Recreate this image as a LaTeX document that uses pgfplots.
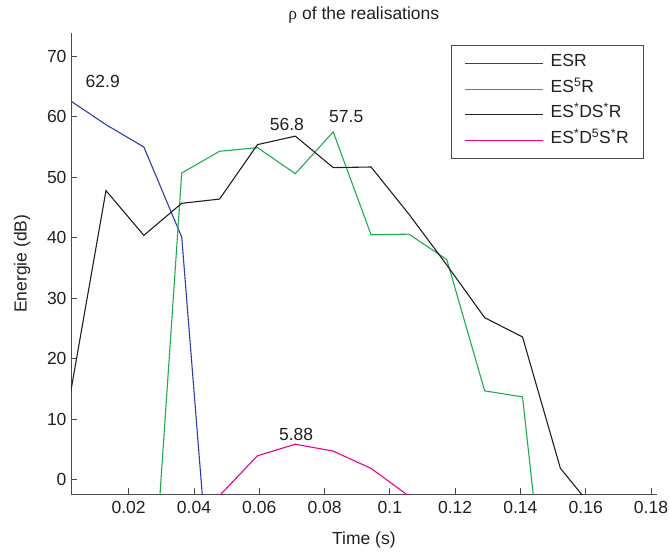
\documentclass[border=0pt]{standalone}
\usepackage{pgfplots}
\pgfplotsset{compat=1.18}
\usepackage{fontspec}
\setmainfont{Liberation Sans}
\newfontfamily\greekfont{Liberation Serif}

\definecolor{esr}{RGB}{46,62,175}
\definecolor{esfr}{RGB}{30,172,78}
\definecolor{esdsr}{RGB}{35,31,32}
\definecolor{esdfsr}{RGB}{236,0,140}
\definecolor{axisgrey}{RGB}{75,75,78}
\definecolor{textc}{RGB}{35,31,32}

\newcommand{\lblfont}{\fontsize{17.5}{20}\selectfont}

\begin{document}
\begin{tikzpicture}[x=1pt,y=1pt]
\useasboundingbox (0,0) rectangle (669,554);
\begin{axis}[
  at={(71pt,59.5pt)}, anchor=south west,
  scale only axis, width=585.7pt, height=461.8pt,
  xmin=0.00233, xmax=0.18175, ymin=-2.43, ymax=73.9,
  axis x line*=bottom, axis y line*=left,
  axis line style={-, color=axisgrey, line width=0.9pt},
  every tick/.style={color=axisgrey, line width=0.9pt},
  tick align=inside, major tick length=6pt,
  xtick={0.02,0.04,0.06,0.08,0.1,0.12,0.14,0.16,0.18},
  xticklabels={0.02,0.04,0.06,0.08,0.1,0.12,0.14,0.16,0.18},
  ytick={0,10,20,30,40,50,60,70},
  yticklabels={0,10,20,30,40,50,60,70},
  scaled x ticks=false,
  tick label style={font=\lblfont, text=textc},
  xticklabel style={yshift=-3pt},
  yticklabel style={xshift=-1pt},
  xlabel={Time (s)}, ylabel={Energie (dB)},
  label style={font=\lblfont, text=textc},
  xlabel style={at={(axis description cs:0.5,-0.0985)}, anchor=center},
  ylabel style={at={(axis description cs:-0.0837,0.5)}, anchor=center},
  title={{\greekfont ρ} of the realisations},
  every axis title shift=0pt,
  title style={font=\lblfont, text=textc, at={(axis description cs:0.5,1)}, anchor=center, yshift=18pt},
  legend image code/.code={\draw[#1] (0pt,0pt) -- (78pt,0pt);},
  legend cell align=left,
  legend style={
    at={(axis description cs:0.6488,0.9734)}, anchor=north west,
    draw=axisgrey, line width=0.9pt, fill=white,
    font=\lblfont, text=textc,
    inner xsep=13pt, inner ysep=5.5pt,
    nodes={inner sep=2pt, text height=14pt, text depth=7.5pt},
    /tikz/every odd column/.append style={column sep=5pt},
  },
  every axis plot/.append style={line width=1.1pt},
]
% legend keys
\addlegendimage{color=esr, line width=1.2pt}
\addlegendentry{ESR}
\addlegendimage{color=esfr, line width=1.1pt}
\addlegendentry{ES\textsuperscript{5}R}
\addlegendimage{color=esdsr, line width=1.1pt}
\addlegendentry{ES\textsuperscript{*}DS\textsuperscript{*}R}
\addlegendimage{color=esdfsr, line width=1.1pt}
\addlegendentry{ES\textsuperscript{*}D\textsuperscript{5}S\textsuperscript{*}R}

% ESR
\addplot[color=esr, forget plot] coordinates {
  (0.00145,62.9) (0.01305,58.7) (0.02465,55.0) (0.03625,40.1) (0.04785,-38.4)
};

% ES^5R
\addplot[color=esfr, forget plot] coordinates {
  (0.02465,-41.9) (0.03625,50.7) (0.04785,54.3) (0.05945,54.9) (0.07105,50.6)
  (0.08265,57.5) (0.09425,40.5) (0.10585,40.6) (0.11745,36.4) (0.12905,14.7)
  (0.14065,13.7) (0.15225,-43.5)
};

% ES*DS*R
\addplot[color=esdsr, forget plot] coordinates {
  (0.00145,12.1) (0.01305,47.8) (0.02465,40.4) (0.03625,45.7) (0.04785,46.4)
  (0.05945,55.4) (0.07105,56.8) (0.08265,51.6) (0.09425,51.7) (0.10585,43.9)
  (0.11745,35.5) (0.12905,26.8) (0.14065,23.6) (0.15225,1.9) (0.16385,-5.8)
};

% ES*D^5S*R
\addplot[color=esdfsr, forget plot] coordinates {
  (0.04785,-2.6) (0.05945,3.97) (0.07105,5.88) (0.08265,4.74) (0.09425,1.88)
  (0.10585,-2.7)
};

% peak values
\node[font=\lblfont, text=textc] at (axis cs:0.01205,65.9) {62.9};
\node[font=\lblfont, text=textc] at (axis cs:0.06848,58.7) {56.8};
\node[font=\lblfont, text=textc] at (axis cs:0.08665,60.1) {57.5};
\node[font=\lblfont, text=textc] at (axis cs:0.0713,7.52) {5.88};
\end{axis}
\end{tikzpicture}
\end{document}
